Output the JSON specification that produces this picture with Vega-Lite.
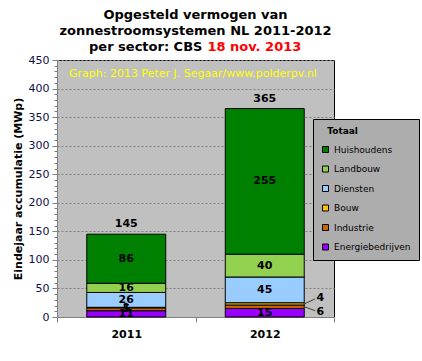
{
  "$schema": "https://vega.github.io/schema/vega-lite/v6.json",
  "width": 277,
  "height": 257,
  "autosize": "none",
  "padding": {"left": 57, "top": 60, "right": 88, "bottom": 44},
  "background": "white",
  "config": {
    "font": "DejaVu Sans",
    "view": {"fill": "#C0C0C0", "stroke": "#000000", "strokeWidth": 1}
  },
  "title": {
    "text": ["Opgesteld vermogen van", "zonnestroomsystemen NL 2011-2012", "per sector: CBS\u00a0\u00a0\u00a0\u00a0\u00a0\u00a0\u00a0\u00a0\u00a0\u00a0\u00a0\u00a0\u00a0\u00a0\u00a0\u00a0\u00a0\u00a0\u00a0\u00a0\u00a0\u00a0\u200b"],
    "subtitle": "\u200b\u00a0\u00a0\u00a0\u00a0\u00a0\u00a0\u00a0\u00a0\u00a0\u00a0\u00a0\u00a0\u00a0\u00a0\u00a0\u00a0\u00a0\u00a0\u00a0\u00a0\u00a0\u00a0\u00a0\u00a0\u00a0\u00a018 nov. 2013",
    "fontSize": 13,
    "fontWeight": "bold",
    "color": "#000000",
    "lineHeight": 16,
    "subtitleFontSize": 13,
    "subtitleFontWeight": "bold",
    "subtitleColor": "#FF0000",
    "subtitleLineHeight": 16,
    "subtitlePadding": -13,
    "anchor": "middle",
    "frame": "group",
    "offset": 0
  },
  "data": {
    "values": [
      {"year": "2011", "sector": "Energiebedrijven", "value": 11},
      {"year": "2011", "sector": "Industrie", "value": 5},
      {"year": "2011", "sector": "Bouw", "value": 1},
      {"year": "2011", "sector": "Diensten", "value": 26},
      {"year": "2011", "sector": "Landbouw", "value": 16},
      {"year": "2011", "sector": "Huishoudens", "value": 86},
      {"year": "2012", "sector": "Energiebedrijven", "value": 15},
      {"year": "2012", "sector": "Industrie", "value": 6},
      {"year": "2012", "sector": "Bouw", "value": 4},
      {"year": "2012", "sector": "Diensten", "value": 45},
      {"year": "2012", "sector": "Landbouw", "value": 40},
      {"year": "2012", "sector": "Huishoudens", "value": 255}
    ]
  },
  "transform": [
    {"calculate": "indexof(['Energiebedrijven','Industrie','Bouw','Diensten','Landbouw','Huishoudens'], datum.sector)", "as": "ord"},
    {"stack": "value", "groupby": ["year"], "sort": [{"field": "ord", "order": "ascending"}], "as": ["v0", "v1"]},
    {"calculate": "(datum.v0 + datum.v1) / 2", "as": "mid"}
  ],
  "layer": [
    {
      "mark": {"type": "bar", "width": {"band": 0.57}, "stroke": "#000000", "strokeWidth": 1},
      "encoding": {
        "x": {
          "field": "year", "type": "nominal",
          "scale": {"paddingInner": 0, "paddingOuter": 0},
          "axis": {
            "title": null, "labelAngle": 0, "labelFontSize": 11, "labelFontWeight": "bold",
            "labelColor": "#000000", "tickBand": "extent", "tickSize": 5, "tickColor": "#808080",
            "domainColor": "#808080", "labelPadding": 6
          }
        },
        "y": {
          "field": "v0", "type": "quantitative",
          "scale": {"domain": [0, 450], "nice": false, "zero": true},
          "axis": {
            "orient": "left",
            "title": "Eindejaar accumulatie (MWp)", "titleFontSize": 11, "titleFontWeight": "bold",
            "titleColor": "#000000", "titlePadding": 5,
            "values": [0, 50, 100, 150, 200, 250, 300, 350, 400, 450],
            "labelFontSize": 11, "labelColor": "#10104A", "labelPadding": 3,
            "tickSize": 5, "tickColor": "#808080", "domainColor": "#808080",
            "grid": true, "gridColor": "#808080", "gridDash": [2, 2]
          }
        },
        "y2": {"field": "v1"},
        "color": {
          "field": "sector", "type": "nominal",
          "scale": {
            "domain": ["Huishoudens", "Landbouw", "Diensten", "Bouw", "Industrie", "Energiebedrijven"],
            "range": ["#008000", "#92D050", "#99CCFF", "#FFC000", "#CC6600", "#9900FF"]
          },
          "legend": {
            "title": "\u200b\u00a0\u00a0Totaal",
            "orient": "none", "legendX": 256, "legendY": 59,
            "titleFontSize": 9, "titleFontWeight": "bold", "titleColor": "#000000", "titlePadding": 9,
            "labelFontSize": 9, "labelColor": "#000000", "labelOffset": 4,
            "symbolType": "square", "symbolSize": 36, "symbolStrokeColor": "#000000", "symbolStrokeWidth": 1,
            "rowPadding": 8.5, "padding": 8,
            "fillColor": "#ADADAD", "strokeColor": "#000000"
          }
        }
      }
    },
    {
      "transform": [{"filter": "!(datum.year == '2012' && (datum.sector == 'Bouw' || datum.sector == 'Industrie'))"}],
      "mark": {"type": "text", "fontSize": 11, "fontWeight": "bold", "color": "#000000", "baseline": "middle"},
      "encoding": {
        "x": {"field": "year", "type": "nominal"},
        "y": {
          "field": "mid", "type": "quantitative",
          "axis": {
            "orient": "left", "title": null, "labels": false, "grid": false, "domain": false,
            "values": [0,10,20,30,40,50,60,70,80,90,100,110,120,130,140,150,160,170,180,190,200,210,220,230,240,250,260,270,280,290,300,310,320,330,340,350,360,370,380,390,400,410,420,430,440,450],
            "tickSize": 3, "tickColor": "#808080"
          }
        },
        "text": {"field": "value", "type": "quantitative"}
      }
    },
    {
      "transform": [{"filter": "datum.year == '2012' && datum.sector == 'Bouw'"}],
      "mark": {"type": "rule", "color": "#404040", "strokeWidth": 1, "x2Offset": 11, "y2Offset": -5},
      "encoding": {
        "x": {"field": "year", "type": "nominal", "bandPosition": 0.785},
        "x2": {"field": "year", "bandPosition": 0.785},
        "y": {"field": "mid", "type": "quantitative", "axis": null},
        "y2": {"field": "mid"}
      }
    },
    {
      "transform": [{"filter": "datum.year == '2012' && datum.sector == 'Industrie'"}],
      "mark": {"type": "rule", "color": "#404040", "strokeWidth": 1, "x2Offset": 11, "y2Offset": 4},
      "encoding": {
        "x": {"field": "year", "type": "nominal", "bandPosition": 0.785},
        "x2": {"field": "year", "bandPosition": 0.785},
        "y": {"field": "mid", "type": "quantitative", "axis": null},
        "y2": {"field": "mid"}
      }
    },
    {
      "transform": [{"filter": "datum.year == '2012' && datum.sector == 'Bouw'"}],
      "mark": {"type": "text", "fontSize": 11, "fontWeight": "bold", "color": "#000000", "baseline": "middle", "dx": 16, "dy": -6},
      "encoding": {
        "x": {"field": "year", "type": "nominal", "bandPosition": 0.785},
        "y": {"field": "mid", "type": "quantitative", "axis": null},
        "text": {"field": "value", "type": "quantitative"}
      }
    },
    {
      "transform": [{"filter": "datum.year == '2012' && datum.sector == 'Industrie'"}],
      "mark": {"type": "text", "fontSize": 11, "fontWeight": "bold", "color": "#000000", "baseline": "middle", "dx": 16, "dy": 5},
      "encoding": {
        "x": {"field": "year", "type": "nominal", "bandPosition": 0.785},
        "y": {"field": "mid", "type": "quantitative", "axis": null},
        "text": {"field": "value", "type": "quantitative"}
      }
    },
    {
      "transform": [{"aggregate": [{"op": "sum", "field": "value", "as": "total"}], "groupby": ["year"]}],
      "mark": {"type": "text", "fontSize": 11, "fontWeight": "bold", "color": "#000000", "baseline": "alphabetic", "dy": -7},
      "encoding": {
        "x": {"field": "year", "type": "nominal"},
        "y": {"field": "total", "type": "quantitative", "axis": null},
        "text": {"field": "total", "type": "quantitative"}
      }
    },
    {
      "data": {"values": [{"note": "Graph: 2013 Peter J. Segaar/www.polderpv.nl"}]},
      "mark": {"type": "text", "fontSize": 11, "color": "#FFFF00", "align": "left", "baseline": "middle", "dx": 12},
      "encoding": {
        "x": {"datum": "2011", "type": "nominal", "bandPosition": 0},
        "y": {"datum": 426, "type": "quantitative", "axis": null},
        "text": {"field": "note"}
      }
    }
  ],
  "resolve": {"axis": {"y": "independent"}}
}
